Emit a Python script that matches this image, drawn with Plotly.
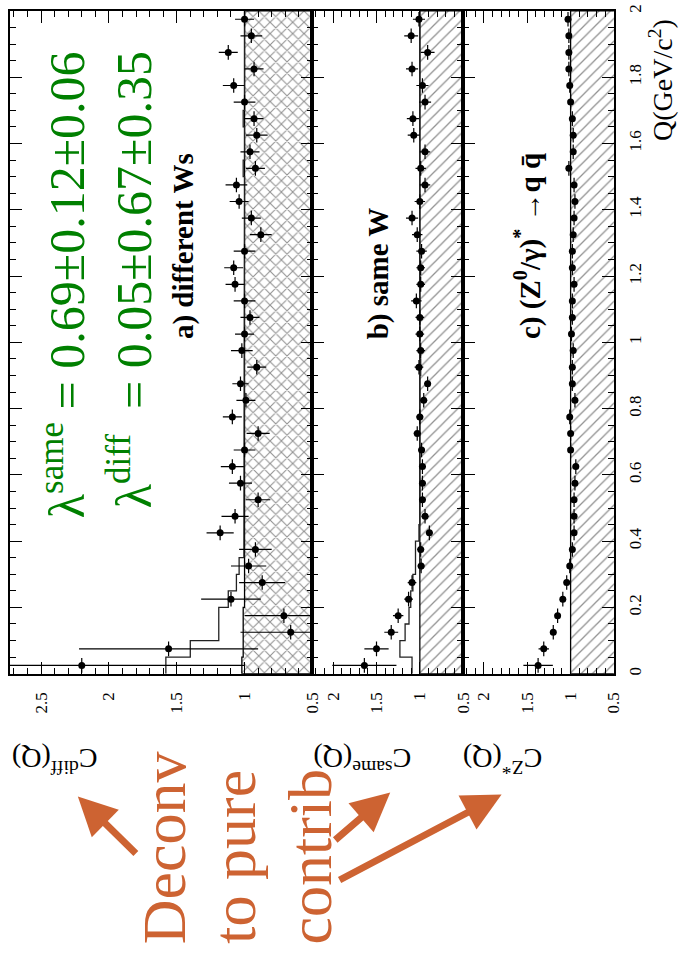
import plotly.graph_objects as go

W, H = 687, 961

# ---------------- data ----------------
q_centers = [0.025, 0.075, 0.125, 0.175, 0.225, 0.275, 0.325, 0.375, 0.425, 0.475,
             0.525, 0.575, 0.625, 0.675, 0.725, 0.775, 0.825, 0.875, 0.925, 0.975,
             1.025, 1.075, 1.125, 1.175, 1.225, 1.275, 1.325, 1.375, 1.425, 1.475,
             1.525, 1.575, 1.625, 1.675, 1.725, 1.775, 1.825, 1.875, 1.925, 1.975]
q_edges = [0.0, 0.05, 0.1, 0.15, 0.2, 0.25, 0.3, 0.35, 0.4, 0.45, 0.5,
           0.55, 0.6, 0.65, 0.7, 0.75, 0.8, 0.85, 0.9, 0.95, 1.0,
           1.05, 1.1, 1.15, 1.2, 1.25, 1.3, 1.35, 1.4, 1.45, 1.5,
           1.55, 1.6, 1.65, 1.7, 1.75, 1.8, 1.85, 1.9, 1.95, 2.0]
q_halfwidth = [0.022] * 40

# a) different Ws
c_diff = [2.20, 1.56, 0.66, 0.71, 1.10, 0.87, 0.97, 0.92, 1.18, 1.07,
          0.90, 1.03, 1.09, 1.00, 0.90, 1.09, 0.99, 1.03, 0.91, 1.02,
          1.00, 0.96, 1.00, 1.07, 1.08, 1.00, 0.88, 0.95, 1.04, 1.06,
          0.92, 0.96, 0.91, 0.93, 1.00, 1.08, 0.93, 1.12, 0.95, 1.00]
c_diff_err = [1.20, 0.66, 0.37, 0.29, 0.22, 0.17, 0.13, 0.12, 0.10, 0.10,
              0.09, 0.085, 0.085, 0.08, 0.085, 0.07, 0.07, 0.06, 0.07, 0.08,
              0.07, 0.07, 0.08, 0.07, 0.07, 0.08, 0.08, 0.07, 0.07, 0.08,
              0.07, 0.07, 0.08, 0.07, 0.08, 0.08, 0.07, 0.07, 0.08, 0.07]
mc_diff = [1.58, 1.40, 1.19, 1.19, 1.12, 1.06, 1.04, 1.005, 1.0, 1.0,
           1.0, 1.0, 1.0, 1.0, 1.0, 1.0, 1.0, 1.0, 1.0, 1.0,
           1.0, 1.0, 1.0, 1.0, 1.0, 1.0, 1.0, 1.0, 1.0, 1.0,
           1.01, 1.0, 1.0, 1.01, 1.0, 1.0, 1.0, 1.0, 1.0, 1.0]
band_diff = [1.02, 1.01, 1.01, 1.01, 1.0, 1.0, 1.0, 1.0, 1.0, 1.0,
             1.0, 1.0, 1.0, 1.0, 1.0, 1.0, 1.0, 1.0, 1.0, 1.0,
             1.0, 1.0, 1.0, 1.0, 1.0, 1.0, 1.0, 1.0, 1.0, 1.0,
             1.0, 1.0, 1.0, 1.0, 1.0, 1.0, 1.0, 1.0, 1.0, 1.0]

# b) same W
c_same = [1.64, 1.50, 1.33, 1.25, 1.13, 1.09, 0.985, 0.99, 0.89, 0.94,
          0.97, 0.97, 0.97, 0.98, 1.03, 1.00, 0.955, 0.91, 1.01, 0.99,
          1.00, 1.00, 1.04, 0.99, 0.99, 0.98, 1.03, 1.09, 1.00, 0.94,
          0.99, 0.94, 1.07, 1.08, 0.94, 0.97, 1.09, 0.91, 1.10, 1.01]
c_same_err = [0.37, 0.14, 0.08, 0.06, 0.05, 0.05, 0.04, 0.04, 0.04, 0.04,
              0.04, 0.04, 0.04, 0.04, 0.04, 0.04, 0.04, 0.04, 0.05, 0.05,
              0.05, 0.05, 0.06, 0.05, 0.05, 0.06, 0.06, 0.07, 0.06, 0.06,
              0.06, 0.06, 0.07, 0.07, 0.07, 0.07, 0.07, 0.08, 0.08, 0.07]
mc_same = [1.09, 1.23, 1.17, 1.125, 1.105, 1.08, 1.05, 1.05, 1.01, 1.0,
           1.0, 1.0, 1.0, 1.0, 1.0, 1.0, 1.0, 1.0, 0.99, 1.0,
           1.0, 1.0, 1.0, 1.0, 1.0, 1.0, 1.0, 1.0, 1.0, 1.0,
           1.0, 1.0, 1.0, 1.0, 1.0, 1.0, 1.0, 1.0, 1.0, 1.0]

# c) (Z0/gamma)* -> q qbar
c_z = [1.375, 1.31, 1.20, 1.15, 1.09, 1.045, 1.01, 0.98, 0.96, 0.96,
       0.96, 0.95, 0.94, 1.00, 1.00, 1.01, 0.95, 0.98, 0.98, 0.97,
       0.99, 0.98, 0.98, 0.96, 0.98, 0.98, 0.97, 0.96, 0.95, 0.96,
       1.02, 0.97, 0.97, 0.98, 1.00, 1.01, 1.02, 1.02, 1.02, 1.03]
c_z_err = [0.17, 0.06, 0.03, 0.02, 0.02, 0.02, 0.02, 0.02, 0.02, 0.02,
           0.02, 0.02, 0.02, 0.02, 0.02, 0.02, 0.02, 0.02, 0.02, 0.02,
           0.02, 0.02, 0.02, 0.02, 0.02, 0.02, 0.02, 0.02, 0.02, 0.02,
           0.02, 0.02, 0.02, 0.02, 0.02, 0.02, 0.02, 0.02, 0.02, 0.02]

tick_q = [0, 0.2, 0.4, 0.6, 0.8, 1, 1.2, 1.4, 1.6, 1.8, 2]
tick_q_text = ["0", "0.2", "0.4", "0.6", "0.8", "1", "1.2", "1.4", "1.6", "1.8", "2"]
tick_ca = [0.5, 1, 1.5, 2, 2.5]
tick_ca_text = ["0.5", "1", "1.5", "2", "2.5"]
tick_cb = [0.5, 1, 1.5, 2]
tick_cb_text = ["0.5", "1", "1.5", "2"]

SERIF = "Times New Roman, Liberation Serif, serif"
GREEN = "#008000"
ORANGE = "#CD6332"


def px(x):
    return x / W


def py(y):
    return 1 - y / H


def steps(vals):
    xs, ys = [], []
    for i, v in enumerate(vals):
        xs += [v, v]
        ys += [q_edges[i], q_edges[i + 1]]
    return xs, ys


fig = go.Figure()

panels = [
    ("x", "y", c_diff, c_diff_err, mc_diff, band_diff, "x"),
    ("x2", "y2", c_same, c_same_err, mc_same, None, "/"),
    ("x3", "y3", c_z, c_z_err, None, None, "/"),
]

for xa, ya, cv, ce, mc, band, pat in panels:
    if band is None:
        band = [1.0] * len(q_centers)
    bx, by = steps(band)
    fig.add_trace(go.Scatter(
        x=[0.5] + bx + [0.5], y=[q_edges[0]] + by + [q_edges[-1]],
        xaxis=xa, yaxis=ya, mode="lines", fill="toself",
        line=dict(color="black", width=1.3),
        fillcolor="white",
        fillpattern=dict(shape=pat, fgcolor="#222", bgcolor="white",
                         size=8, solidity=0.25 if pat == "x" else 0.16),
        hoverinfo="skip", showlegend=False))
    if mc is not None:
        sx, sy = steps(mc)
        fig.add_trace(go.Scatter(
            x=sx, y=sy, xaxis=xa, yaxis=ya, mode="lines",
            line=dict(color="#222", width=1.3), showlegend=False,
            hoverinfo="skip"))
    fig.add_trace(go.Scatter(
        x=cv, y=q_centers, xaxis=xa, yaxis=ya, mode="markers",
        marker=dict(color="black", size=7),
        error_x=dict(type="data", array=ce, color="black", thickness=1.2, width=0),
        error_y=dict(type="data", array=q_halfwidth, color="black", thickness=1.2, width=0),
        showlegend=False))

tickfont = dict(family=SERIF, size=17, color="black")
ydom = [py(673), py(4)]


def xaxis(dom, rng, tv, tt):
    return dict(domain=dom, range=rng, autorange=False, showgrid=False, zeroline=False,
                showline=True, linecolor="black", linewidth=1.5, mirror="allticks",
                ticks="inside", ticklen=12, tickwidth=1, tickcolor="black",
                tickvals=tv, ticktext=tt, tickangle=-90, tickfont=tickfont,
                ticklabelstandoff=10, ticklabeloverflow="allow",
                minor=dict(ticks="inside", ticklen=6, tickwidth=1, tickcolor="black",
                           dtick=0.1, tick0=0.5, showgrid=False))


def yaxis(anchor, labels):
    d = dict(domain=ydom, range=[0, 2], autorange=False, anchor=anchor, showgrid=False,
             zeroline=False, showline=True, linecolor="black", linewidth=1.5,
             mirror="allticks", ticks="inside", ticklen=12, tickwidth=1, tickcolor="black",
             tickvals=tick_q, ticktext=tick_q_text, showticklabels=labels,
             minor=dict(ticks="inside", ticklen=6, tickwidth=1, tickcolor="black",
                        dtick=0.05, tick0=0, showgrid=False))
    if labels:
        d.update(side="right", tickangle=-90, tickfont=tickfont, ticklabelstandoff=5,
                 ticklabeloverflow="allow")
    return d


fig.update_layout(
    width=W, height=H, margin=dict(l=0, r=0, t=0, b=0),
    paper_bgcolor="white", plot_bgcolor="white", showlegend=False,
    font=dict(family=SERIF),
    xaxis=dict(xaxis([px(10), px(317)], [2.73, 0.5], tick_ca, tick_ca_text), anchor="y"),
    xaxis2=dict(xaxis([px(317), px(470)], [2.24, 0.5], tick_cb, tick_cb_text), anchor="y2"),
    xaxis3=dict(xaxis([px(470), px(623)], [2.24, 0.5], tick_cb, tick_cb_text), anchor="y3"),
    yaxis=yaxis("x", False),
    yaxis2=yaxis("x2", False),
    yaxis3=yaxis("x3", True),
)

ann = []


def text(x, y, s, size, color="black", angle=-90, xanchor="center", yanchor="middle",
         weight="normal"):
    ann.append(dict(x=px(x), y=py(y), xref="paper", yref="paper", text=s, showarrow=False,
                    textangle=angle, xanchor=xanchor, yanchor=yanchor,
                    font=dict(family=SERIF, size=size, color=color, weight=weight)))


# panel labels
text(187, 337, "a) different Ws", 29, yanchor="bottom", weight="bold")
text(384, 337, "b) same W", 29, yanchor="bottom", weight="bold")
text(536, 337, "c) (Z<sup>0</sup>/γ)<sup>*</sup> →q q\u0304", 29, yanchor="bottom", weight="bold")

# lambda results
text(64, 43, "λ<sup>same</sup> = 0.69±0.12±0.06", 50, GREEN, yanchor="top")
text(132, 43, "λ<sup>diff</sup>  = 0.05±0.67±0.35", 50, GREEN, yanchor="top")

# axis titles (upside down)
text(55, 760, "C<sup>diff</sup>(Q)", 28, angle=180)
text(368, 760, "C<sup>same</sup>(Q)", 28, angle=180)
text(510, 760, "C<sup>Z*</sup>(Q)", 28, angle=180)

# Q axis title
text(671, 137, "Q(GeV/c<sup>2</sup>)", 28, yanchor="bottom")

# orange annotation
text(166, 948, "Deconv", 62, ORANGE, yanchor="bottom")
text(238, 948, "to pure", 62, ORANGE, yanchor="bottom")
text(315, 948, "contrib", 62, ORANGE, yanchor="bottom")

arrows = [((79, 797), (140, 857)), ((396, 793), (338, 843)), ((509, 795), (344, 882))]
for (hx, hy), (tx, ty) in arrows:
    ann.append(dict(x=px(hx), y=py(hy), xref="paper", yref="paper", text=" ",
                    showarrow=True, ax=tx - hx, ay=ty - hy, arrowhead=2, arrowsize=1.1,
                    arrowwidth=7, arrowcolor=ORANGE, standoff=0))

fig.update_layout(annotations=ann)

fig.write_html("out.html")
